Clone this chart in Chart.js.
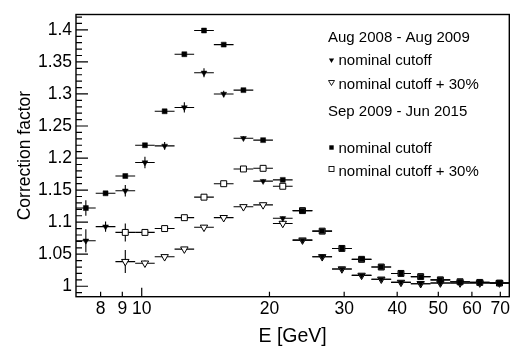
<!DOCTYPE html>
<html>
<head>
<meta charset="utf-8">
<script src="https://cdn.jsdelivr.net/npm/chart.js@4.4.1/dist/chart.umd.min.js"></script>
<style>
  body { margin: 0; background: #fff; }
  #wrap { width: 518px; height: 348px; }
</style>
</head>
<body>
<div id="wrap"><canvas id="myChart" width="518" height="348"></canvas></div>
<script>
// energy bin edges [GeV], 22 log bins
const binEdges = [7.00, 7.79, 8.67, 9.65, 10.73, 11.95, 13.29, 14.79, 16.46, 18.32, 20.38,
  22.68, 25.24, 28.09, 31.26, 34.78, 38.71, 43.07, 47.93, 53.34, 59.36, 66.05, 73.50];

// Aug 2008 - Aug 2009
const aug08Nominal = [1.071, 1.093, 1.149, 1.193, 1.219, 1.279, 1.333, 1.300, 1.231, 1.164, 1.106,
  1.072, 1.046, 1.027, 1.017, 1.011, 1.006, 1.004, 1.005, 1.005, 1.005, 1.005];
const aug08NominalErr = [0.018, 0.008, 0.009, 0.009, 0.006, 0.008, 0.007, 0.005, 0.003, 0.003, 0.003,
  0.003, 0.003, 0.002, 0.002, 0.002, 0.002, 0.002, 0.002, 0.002, 0.002, 0.002];
const aug08Cut30 = [null, null, 1.0385, 1.036, 1.046, 1.058, 1.092, 1.107, 1.124, 1.127, 1.098,
  1.072, 1.046, 1.027, 1.017, 1.011, 1.006, 1.004, 1.005, 1.005, 1.005, 1.005];
const aug08Cut30Err = [0, 0, 0.018, 0.004, 0.003, 0.003, 0.003, 0.003, 0.003, 0.003, 0.003,
  0.003, 0.003, 0.002, 0.002, 0.002, 0.002, 0.002, 0.002, 0.002, 0.002, 0.002];

// Sep 2009 - Jun 2015
const sep09Nominal = [1.122, 1.145, 1.172, 1.220, 1.273, 1.362, 1.399, 1.377, 1.306, 1.228, 1.166,
  1.118, 1.086, 1.059, 1.042, 1.030, 1.020, 1.015, 1.010, 1.007, 1.006, 1.005];
const sep09NominalErr = [0.012, 0.003, 0.003, 0.003, 0.003, 0.003, 0.003, 0.003, 0.003, 0.003, 0.003,
  0.003, 0.002, 0.002, 0.002, 0.002, 0.002, 0.002, 0.002, 0.002, 0.002, 0.002];
const sep09Cut30 = [null, null, 1.084, 1.084, 1.090, 1.107, 1.139, 1.160, 1.183, 1.184, 1.156,
  1.118, 1.086, 1.059, 1.042, 1.030, 1.020, 1.015, 1.010, 1.007, 1.006, 1.005];
const sep09Cut30Err = [0, 0, 0.014, 0.003, 0.003, 0.003, 0.003, 0.003, 0.003, 0.003, 0.003,
  0.003, 0.002, 0.002, 0.002, 0.002, 0.002, 0.002, 0.002, 0.002, 0.002, 0.002];

const xTicks = [8, 9, 10, 20, 30, 40, 50, 60, 70];
const yTicks = [1, 1.05, 1.1, 1.15, 1.2, 1.25, 1.3, 1.35, 1.4];
const yTickLabels = ["1", "1.05", "1.1", "1.15", "1.2", "1.25", "1.3", "1.35", "1.4"];

const FONT = "'Liberation Sans', Arial, Helvetica, sans-serif";

// one point per bin, centred (in log) between the edges
function toPoints(values, errs) {
  let pts = [];
  values.forEach((v, i) => {
    if (v === null) return;
    let lo = binEdges[i], hi = binEdges[i + 1];
    pts.push({ x: Math.sqrt(lo * hi), y: v, xLo: lo, xHi: hi, yErr: errs[i] });
  });
  return pts;
}

// horizontal bars span the bin, vertical bars the uncertainty
const errorBars = {
  id: "errorBars",
  beforeDatasetsDraw(chart) {
    const { ctx, scales: { x, y } } = chart;
    ctx.save();
    ctx.strokeStyle = "#000";
    ctx.lineWidth = 1.1;
    chart.data.datasets.forEach((ds) => {
      ds.data.forEach((p) => {
        let px = x.getPixelForValue(p.x);
        let py = y.getPixelForValue(p.y);
        ctx.beginPath();
        ctx.moveTo(x.getPixelForValue(p.xLo), py);
        ctx.lineTo(x.getPixelForValue(p.xHi), py);
        if (p.yErr > 0) {
          ctx.moveTo(px, y.getPixelForValue(p.y - p.yErr));
          ctx.lineTo(px, y.getPixelForValue(p.y + p.yErr));
        }
        ctx.stroke();
      });
    });
    ctx.restore();
  },
};

// frame, inward tick marks and the legend block
const frameAndLegend = {
  id: "frameAndLegend",
  afterDraw(chart) {
    const { ctx, chartArea: a, scales: { x, y } } = chart;
    ctx.save();
    ctx.strokeStyle = "#000";
    ctx.lineWidth = 1.4;
    ctx.strokeRect(a.left, a.top, a.right - a.left, a.bottom - a.top);

    ctx.lineWidth = 1.2;
    ctx.beginPath();
    for (let k = 99; k <= 142; k++) {
      let py = y.getPixelForValue(k / 100);
      let len = k % 5 === 0 ? 12 : 6;
      ctx.moveTo(a.left, py);
      ctx.lineTo(a.left + len, py);
    }
    xTicks.forEach((v) => {
      let px = x.getPixelForValue(v);
      let len = v === 10 ? 9 : 5;
      ctx.moveTo(px, a.bottom);
      ctx.lineTo(px, a.bottom - len);
    });
    ctx.stroke();

    // legend
    ctx.fillStyle = "#000";
    ctx.font = "15px " + FONT;
    ctx.textBaseline = "alphabetic";
    ctx.textAlign = "left";
    ctx.fillText("Aug 2008 - Aug 2009", 328, 41.5);
    ctx.fillText("nominal cutoff", 338.5, 65);
    ctx.fillText("nominal cutoff + 30%", 338.5, 88.5);
    ctx.fillText("Sep 2009 - Jun 2015", 328, 116);
    ctx.fillText("nominal cutoff", 338.5, 152.5);
    ctx.fillText("nominal cutoff + 30%", 338.5, 176);

    const mx = 331.5;
    ctx.lineWidth = 0.9;
    // filled triangle
    ctx.beginPath();
    ctx.moveTo(mx - 2.6, 58.5); ctx.lineTo(mx + 2.6, 58.5); ctx.lineTo(mx, 63);
    ctx.closePath(); ctx.fill();
    // open triangle
    ctx.beginPath();
    ctx.moveTo(mx - 3, 80.5); ctx.lineTo(mx + 3, 80.5); ctx.lineTo(mx, 85.5);
    ctx.closePath(); ctx.stroke();
    // filled square
    ctx.fillRect(mx - 2.2, 145.3, 4.4, 4.4);
    // open square
    ctx.strokeRect(mx - 2.5, 166.5, 5, 5);
    ctx.restore();
  },
};

const ctx = document.getElementById("myChart");
new Chart(ctx, {
  type: "scatter",
  data: {
    datasets: [
      {
        label: "Aug 2008 - Aug 2009, nominal cutoff",
        data: toPoints(aug08Nominal, aug08NominalErr),
        pointStyle: "triangle",
        pointRotation: 180,
        pointRadius: 3.4,
        pointBackgroundColor: "#000",
        pointBorderColor: "#000",
        pointBorderWidth: 0.5,
      },
      {
        label: "Sep 2009 - Jun 2015, nominal cutoff",
        data: toPoints(sep09Nominal, sep09NominalErr),
        pointStyle: "rect",
        pointRadius: 3.5,
        pointBackgroundColor: "#000",
        pointBorderColor: "#000",
        pointBorderWidth: 0.5,
      },
      {
        label: "Aug 2008 - Aug 2009, nominal cutoff + 30%",
        data: toPoints(aug08Cut30, aug08Cut30Err),
        pointStyle: "triangle",
        pointRotation: 180,
        pointRadius: 4.3,
        pointBackgroundColor: "#fff",
        pointBorderColor: "#000",
        pointBorderWidth: 1,
      },
      {
        label: "Sep 2009 - Jun 2015, nominal cutoff + 30%",
        data: toPoints(sep09Cut30, sep09Cut30Err),
        pointStyle: "rect",
        pointRadius: 4.2,
        pointBackgroundColor: "#fff",
        pointBorderColor: "#000",
        pointBorderWidth: 1,
      },
    ],
  },
  options: {
    responsive: false,
    animation: false,
    events: [],
    layout: { padding: { top: 7.5, right: 8.7, left: 0, bottom: 0 } },
    plugins: { legend: { display: false }, tooltip: { enabled: false } },
    scales: {
      x: {
        type: "logarithmic",
        position: "bottom",
        min: binEdges[0],
        max: binEdges[binEdges.length - 1],
        grid: { display: false, drawTicks: false },
        border: { display: false },
        afterBuildTicks: (scale) => {
          scale.ticks = xTicks.map((v) => ({ value: v }));
        },
        afterFit: (scale) => {
          scale.height = 51.3;
        },
        ticks: {
          autoSkip: false,
          maxRotation: 0,
          padding: 2,
          color: "#000",
          font: { family: FONT, size: 17.5 },
          callback: (value) => String(value),
        },
        title: {
          display: true,
          text: "E [GeV]",
          color: "#000",
          font: { family: FONT, size: 19.5 },
          padding: { top: 0, bottom: 0 },
        },
      },
      y: {
        type: "linear",
        position: "left",
        min: 0.9837,
        max: 1.424,
        grid: { display: false, drawTicks: false },
        border: { display: false },
        afterBuildTicks: (scale) => {
          scale.ticks = yTicks.map((v) => ({ value: v }));
        },
        afterFit: (scale) => {
          scale.width = 76;
        },
        ticks: {
          padding: 4,
          color: "#000",
          font: { family: FONT, size: 17.5 },
          callback: (value) => yTickLabels[yTicks.indexOf(value)] ?? "",
        },
        title: {
          display: true,
          text: "Correction factor",
          color: "#000",
          font: { family: FONT, size: 17.5 },
          padding: { top: 15, bottom: 0 },
        },
      },
    },
  },
  plugins: [errorBars, frameAndLegend],
});
</script>
</body>
</html>
